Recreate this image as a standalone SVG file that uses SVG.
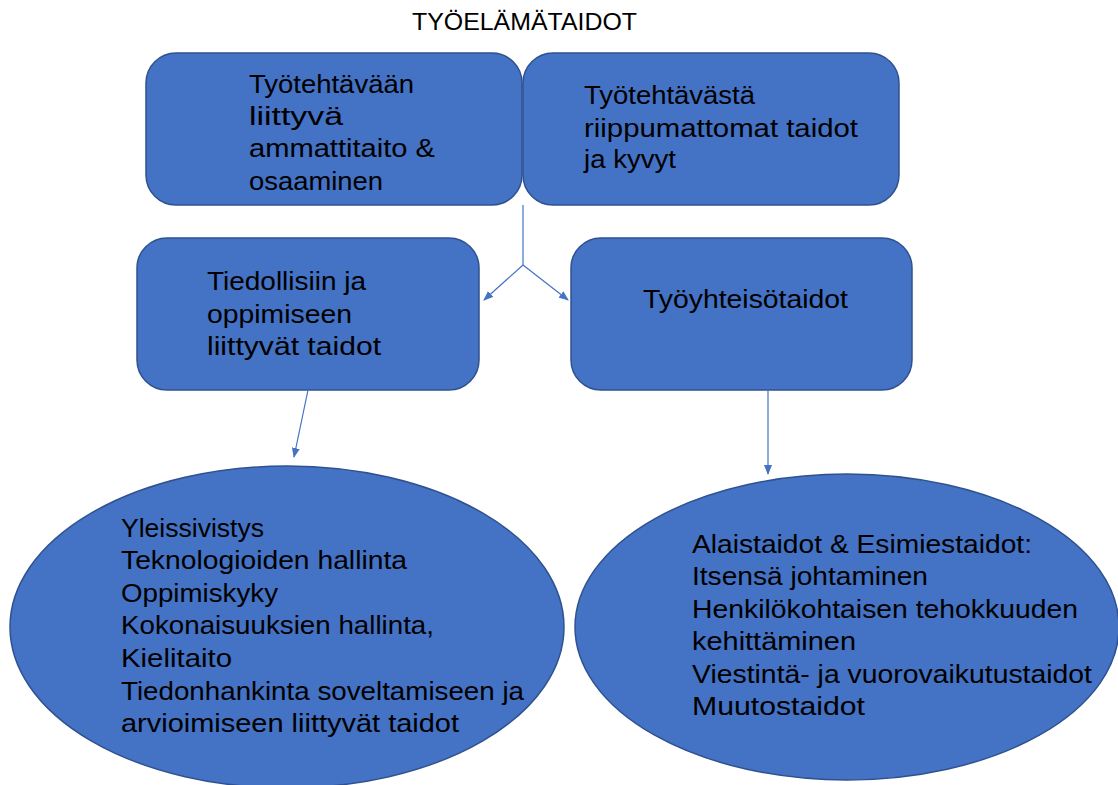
<svg xmlns="http://www.w3.org/2000/svg" width="1118" height="785" viewBox="0 0 1118 785">
<style>
.box{fill:#4472C4;stroke:#2F528F;stroke-width:1.5}
.t{font-family:"Liberation Sans",Arial,sans-serif;font-size:25px;fill:#000}
.title{font-family:"Liberation Sans",Arial,sans-serif;font-size:23px;fill:#000}
.conn{stroke:#4472C4;stroke-width:1.2;fill:none}
</style>
<defs>
<marker id="arr" markerWidth="10" markerHeight="8" refX="9" refY="4" orient="auto" markerUnits="userSpaceOnUse">
<path d="M0,0 L10,4 L0,8 Z" fill="#4472C4"/>
</marker>
</defs>
<rect width="1118" height="785" fill="#fff"/>
<text class="title" x="412" y="30" textLength="225" lengthAdjust="spacingAndGlyphs">TYÖELÄMÄTAIDOT</text>
<g id="node-tyotehtavaan">
<rect class="box" x="146" y="53" width="376" height="152" rx="30"/>
<text class="t" x="249" y="93" textLength="165" lengthAdjust="spacingAndGlyphs">Työtehtävään</text>
<text class="t" x="249" y="125" textLength="94" lengthAdjust="spacingAndGlyphs">liittyvä</text>
<text class="t" x="249" y="157" textLength="186" lengthAdjust="spacingAndGlyphs">ammattitaito &amp;</text>
<text class="t" x="249" y="190" textLength="134" lengthAdjust="spacingAndGlyphs">osaaminen</text>
</g>
<g id="node-tyotehtavasta">
<rect class="box" x="523" y="53" width="376" height="152" rx="30"/>
<text class="t" x="584" y="104" textLength="171" lengthAdjust="spacingAndGlyphs">Työtehtävästä</text>
<text class="t" x="584" y="137" textLength="274" lengthAdjust="spacingAndGlyphs">riippumattomat taidot</text>
<text class="t" x="584" y="168" textLength="92" lengthAdjust="spacingAndGlyphs">ja kyvyt</text>
</g>
<g id="node-tiedollisiin">
<rect class="box" x="137" y="238" width="342" height="152" rx="30"/>
<text class="t" x="207" y="290" textLength="159" lengthAdjust="spacingAndGlyphs">Tiedollisiin ja</text>
<text class="t" x="207" y="323" textLength="145" lengthAdjust="spacingAndGlyphs">oppimiseen</text>
<text class="t" x="207" y="355" textLength="174" lengthAdjust="spacingAndGlyphs">liittyvät taidot</text>
</g>
<g id="node-tyoyhteiso">
<rect class="box" x="571" y="238" width="341" height="152" rx="30"/>
<text class="t" x="643" y="308" textLength="205" lengthAdjust="spacingAndGlyphs">Työyhteisötaidot</text>
</g>
<g id="node-yleissivistys">
<ellipse class="box" cx="287" cy="627" rx="277" ry="161"/>
<text class="t" x="121" y="537" textLength="143" lengthAdjust="spacingAndGlyphs">Yleissivistys</text>
<text class="t" x="121" y="569" textLength="286" lengthAdjust="spacingAndGlyphs">Teknologioiden hallinta</text>
<text class="t" x="121" y="602" textLength="157" lengthAdjust="spacingAndGlyphs">Oppimiskyky</text>
<text class="t" x="121" y="634" textLength="313" lengthAdjust="spacingAndGlyphs">Kokonaisuuksien hallinta,</text>
<text class="t" x="121" y="667" textLength="111" lengthAdjust="spacingAndGlyphs">Kielitaito</text>
<text class="t" x="121" y="700" textLength="403" lengthAdjust="spacingAndGlyphs">Tiedonhankinta soveltamiseen ja</text>
<text class="t" x="121" y="732" textLength="338" lengthAdjust="spacingAndGlyphs">arvioimiseen liittyvät taidot</text>
</g>
<g id="node-alaistaidot">
<ellipse class="box" cx="847" cy="627" rx="272" ry="153"/>
<text class="t" x="692" y="553" textLength="340" lengthAdjust="spacingAndGlyphs">Alaistaidot &amp; Esimiestaidot:</text>
<text class="t" x="692" y="585" textLength="236" lengthAdjust="spacingAndGlyphs">Itsensä johtaminen</text>
<text class="t" x="692" y="618" textLength="386" lengthAdjust="spacingAndGlyphs">Henkilökohtaisen tehokkuuden</text>
<text class="t" x="692" y="650" textLength="164" lengthAdjust="spacingAndGlyphs">kehittäminen</text>
<text class="t" x="692" y="683" textLength="400" lengthAdjust="spacingAndGlyphs">Viestintä- ja vuorovaikutustaidot</text>
<text class="t" x="692" y="715" textLength="173" lengthAdjust="spacingAndGlyphs">Muutostaidot</text>
</g>
<g id="connectors">
<path class="conn" d="M523,205 L523,265"/>
<path class="conn" d="M523,265 L484,300" marker-end="url(#arr)"/>
<path class="conn" d="M523,265 L568,300" marker-end="url(#arr)"/>
<path class="conn" d="M308,390 L294,457" marker-end="url(#arr)"/>
<path class="conn" d="M768,390 L768,474" marker-end="url(#arr)"/>
</g>
</svg>
